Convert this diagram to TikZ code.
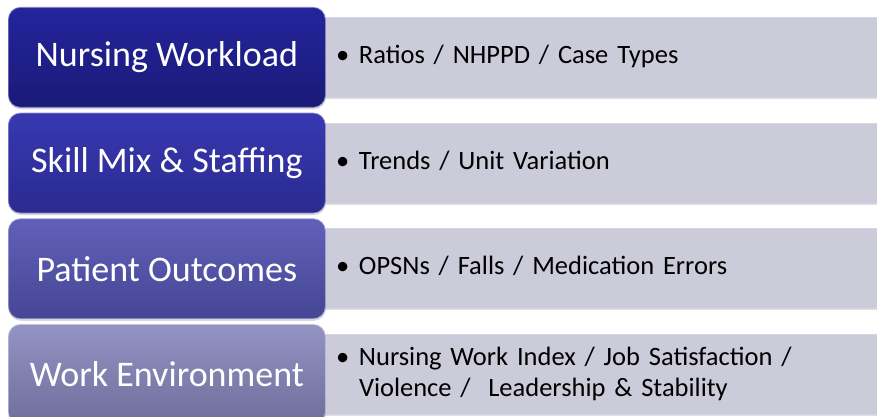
\documentclass[tikz,border=0pt]{standalone}
\usepackage{fontspec}
\setmainfont{Carlito}
\usetikzlibrary{positioning, shadows, backgrounds}

\definecolor{nurseTop}{HTML}{24249C}
\definecolor{nurseBot}{HTML}{1A1A78}
\definecolor{skillTop}{HTML}{3838B2}
\definecolor{skillBot}{HTML}{2A2A90}
\definecolor{patTop}{HTML}{6060B8}
\definecolor{patBot}{HTML}{464696}
\definecolor{workTop}{HTML}{9494C4}
\definecolor{workBot}{HTML}{6E6E9C}
\definecolor{panel}{HTML}{CBCBDA}

% bullet list entry for the grey panels, wrapped lines hang under the text
\newcommand{\bitem}[1]{\begin{tabular}{@{}p{23pt}@{}l@{}}\textbullet & #1\end{tabular}}

\begin{document}
\begin{tikzpicture}[
    x=1pt, y=-1pt,
    node distance=5pt,
    topic/.style 2 args={rectangle, rounded corners=12pt, minimum width=317pt, minimum height=100pt,
        top color=#1, bottom color=#2, draw=#1!55!white, line width=0.7pt, text=white,
        font=\fontsize{36}{43}\selectfont,
        drop shadow={opacity=0.3, shadow xshift=0.5pt, shadow yshift=-2pt}},
    detail/.style={rectangle, fill=panel, draw=panel!80!white, line width=0.6pt,
        minimum height=80pt, text width=560pt, inner xsep=13pt, align=left,
        font=\fontsize{26.5}{31}\selectfont, text=black,
        drop shadow={opacity=0.25, shadow xshift=0pt, shadow yshift=-1.5pt}}
]
\clip (0,0) rectangle (877,417);

\node[topic={nurseTop}{nurseBot}, anchor=north west] (nurse) at (8,7) {Nursing Workload};
\node[topic={skillTop}{skillBot}, below=of nurse] (skill) {Skill Mix \& Staffing};
\node[topic={patTop}{patBot}, below=of skill] (patient) {Patient Outcomes};
\node[topic={workTop}{workBot}, below=of patient] (work) {Work Environment};

\begin{scope}[on background layer]
\node[detail, right=-3pt of nurse] (ratios) {\bitem{Ratios / NHPPD / Case Types}};
\node[detail, right=-3pt of skill] (trends) {\bitem{Trends / Unit Variation}};
\node[detail, right=-3pt of patient] (errors) {\bitem{OPSNs / Falls / Medication Errors}};
\node[detail, right=-3pt of work] (index) {\bitem{Nursing Work Index / Job Satisfaction /\\ & Violence /~~Leadership \& Stability}};
\end{scope}

\end{tikzpicture}
\end{document}
